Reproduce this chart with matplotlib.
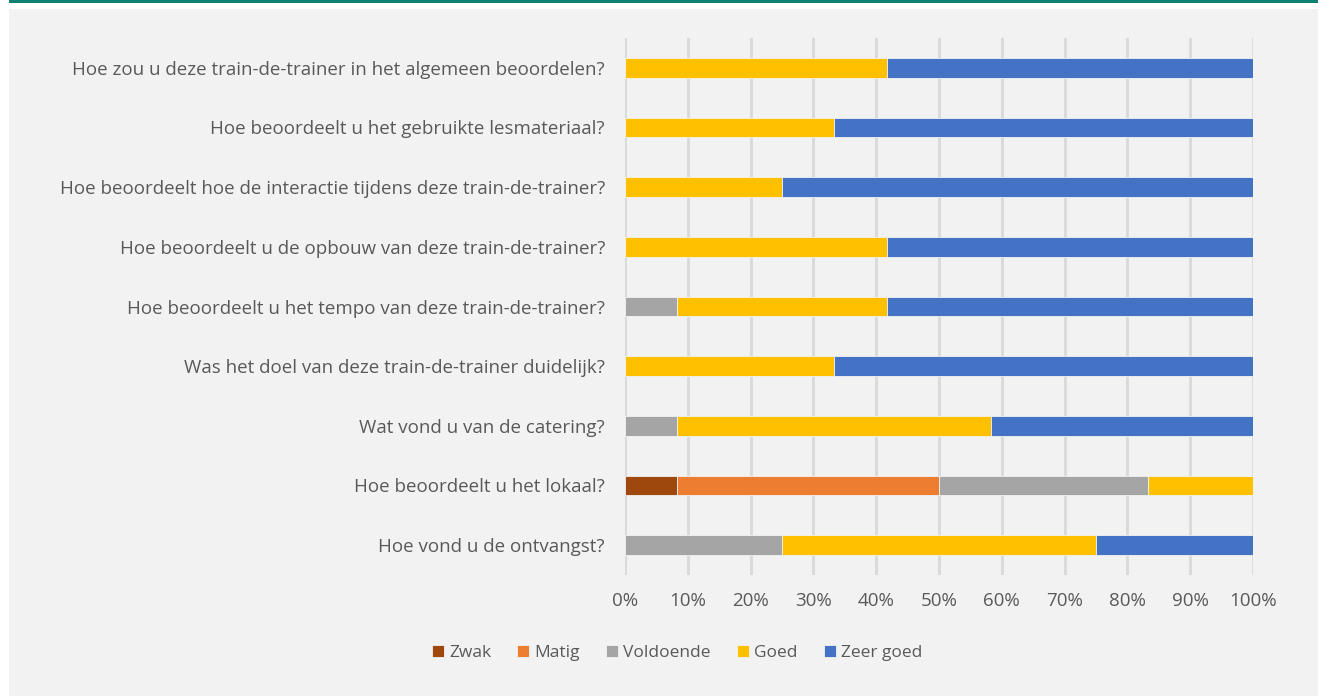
import matplotlib.pyplot as plt
from matplotlib.patches import Rectangle
import numpy as np

vragen = [
    'Hoe zou u deze train-de-trainer in het algemeen beoordelen?',
    'Hoe beoordeelt u het gebruikte lesmateriaal?',
    'Hoe beoordeelt hoe de interactie tijdens deze train-de-trainer?',
    'Hoe beoordeelt u de opbouw van deze train-de-trainer?',
    'Hoe beoordeelt u het tempo van deze train-de-trainer?',
    'Was het doel van deze train-de-trainer duidelijk?',
    'Wat vond u van de catering?',
    'Hoe beoordeelt u het lokaal?',
    'Hoe vond u de ontvangst?',
]

# percentages per antwoord, zelfde volgorde als vragen
zwak      = [0, 0, 0, 0, 0, 0, 0, 8.33, 0]
matig     = [0, 0, 0, 0, 0, 0, 0, 41.67, 0]
voldoende = [0, 0, 0, 0, 8.33, 0, 8.33, 33.33, 25]
goed      = [41.67, 33.33, 25, 41.67, 33.33, 33.33, 50, 16.67, 50]
zeer_goed = [58.33, 66.67, 75, 58.33, 58.33, 66.67, 41.67, 0, 25]

reeksen = ['Zwak', 'Matig', 'Voldoende', 'Goed', 'Zeer goed']
kleuren = ['#9E480E', '#ED7D31', '#A5A5A5', '#FFC000', '#4472C4']
txt = '#595959'

plt.rcParams['font.family'] = ['Open Sans', 'DejaVu Sans']

fig = plt.figure(figsize=(13.27, 6.96), dpi=100)
fig.patch.set_facecolor('white')
# achtergrondpaneel en groene balk bovenaan
fig.patches.append(Rectangle((9/1327, 0), 1309/1327, 1 - 9/696, transform=fig.transFigure,
                             facecolor='#F2F2F2', edgecolor='none', zorder=-10))
fig.patches.append(Rectangle((9/1327, 1 - 3/696), 1309/1327, 3/696, transform=fig.transFigure,
                             facecolor='#0E8174', edgecolor='none', zorder=-10))

ax = fig.add_axes([625/1327, 1 - 575/696, 628/1327, 537/696])
ax.set_facecolor('none')

y = np.arange(len(vragen))
links = np.zeros(len(vragen))
for naam, data, kl in zip(reeksen, [zwak, matig, voldoende, goed, zeer_goed], kleuren):
    data = np.array(data)
    ax.barh(y, data, left=links, height=0.335, color=kl, label=naam,
            edgecolor='#F2F2F2', linewidth=0.6, zorder=3)
    links += data

ax.set_ylim(len(vragen) - 0.5, -0.5)
ax.set_xlim(0, 100)
ax.set_xticks(np.arange(0, 101, 10))
ax.set_xticklabels([f'{v}%' for v in range(0, 101, 10)])
ax.set_yticks(y)
ax.set_yticklabels(vragen)
ax.xaxis.grid(True, color='#D9D9D9', linewidth=2, zorder=0)
ax.set_axisbelow(True)
for s in ax.spines.values():
    s.set_visible(False)
ax.tick_params(axis='both', length=0, colors=txt, labelsize=13.5)
ax.tick_params(axis='x', pad=12.5)
ax.tick_params(axis='y', pad=14.4)

leg = fig.legend(loc='center', bbox_to_anchor=(677/1327, 1 - 653/696), ncol=5, frameon=False,
                 fontsize=12.5, handlelength=0.7, handleheight=0.7, handletextpad=0.3,
                 columnspacing=1.5)
for t in leg.get_texts():
    t.set_color(txt)

fig.savefig('out.png', dpi=100, facecolor=fig.get_facecolor())
